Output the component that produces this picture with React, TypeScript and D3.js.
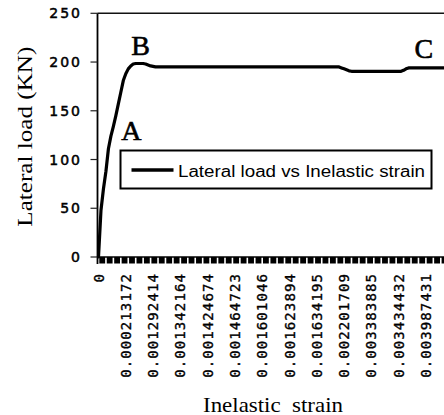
import React from 'react';
import * as d3 from 'd3';

const W = 444;
const H = 415;

const yTicks = [0, 50, 100, 150, 200, 250];
const xTickLabels = [
  '0', '0.000213172', '0.001292414', '0.001342164', '0.001424674',
  '0.001464723', '0.001601046', '0.001623894', '0.001634195',
  '0.002201709', '0.003383885', '0.003434432', '0.003987431',
];
const labelEvery = 11;
const tickEvery = 3;

// Lateral load (KN) per inelastic strain category
const loads = [
  0, 48, 70, 88, 111, 124, 134, 145, 157, 169,
  181, 188, 193, 196, 198, 198.5, 198.5, 198.5, 198.5, 198,
  197, 196, 195.5,
  195, 195, 195, 195, 195, 195, 195, 195, 195, 195,
  195, 195, 195, 195, 195, 195, 195, 195, 195, 195,
  195, 195, 195, 195, 195, 195, 195, 195, 195, 195,
  195, 195, 195, 195, 195, 195, 195, 195, 195, 195,
  195, 195, 195, 195, 195, 195, 195, 195, 195, 195,
  195, 195, 195, 195, 195, 195, 195, 195, 195, 195,
  195, 195, 195, 195, 195, 195, 195, 195, 195, 195,
  195, 195, 195, 195,
  195, 194, 193, 192, 191,
  190.5, 190.5, 190.5, 190.5, 190.5, 190.5, 190.5, 190.5, 190.5, 190.5,
  190.5, 190.5, 190.5, 190.5, 190.5, 190.5, 190.5, 190.5, 190.5, 190.5,
  190.5,
  191.5, 193,
  194, 194, 194, 194, 194, 194, 194, 194, 194, 194,
  194, 194, 194, 194, 194, 194,
];

const annotations = [
  { label: 'A', cat: 9.2, load: 120 },
  { label: 'B', cat: 13.2, load: 207.2 },
  { label: 'C', cat: 127.4, load: 204.1 },
];

export default function App() {
  const x = d3.scaleLinear().domain([0, 132]).range([98.5, 425.9]);
  const y = d3.scaleLinear().domain([0, 250]).range([257, 13.3]);
  const axisX = 97.5;
  const y0 = y(0);

  const line = d3
    .line<number>()
    .x((_, i) => x(i))
    .y((d) => y(d));

  const tickIdx = d3.range(0, loads.length + 3, tickEvery);
  const step = x(1) - x(0);

  return (
    <svg
      width={W}
      height={H}
      style={{ position: 'absolute', left: 0, top: 0, background: '#fff' }}
    >
      <rect x={0} y={0} width={W} height={H} fill="#fff" />
      {/* plot area top border */}
      <line x1={axisX} x2={W + 10} y1={y(250)} y2={y(250)} stroke="#111" strokeWidth={1.4} />
      {/* y axis */}
      <line x1={axisX} x2={axisX} y1={y(250)} y2={y0 + 7} stroke="#000" strokeWidth={1.8} />
      {yTicks.map((t) => (
        <g key={t}>
          <line x1={axisX - 7} x2={axisX} y1={y(t)} y2={y(t)} stroke="#222" strokeWidth={1.2} />
          <text
            x={82}
            y={y(t)}
            dy="0.36em"
            textAnchor="end"
            fontFamily="DejaVu Sans"
            fontSize={14}
            letterSpacing={2}
            fill="#000"
            stroke="#000"
            strokeWidth={0.5}
          >
            {t}
          </text>
        </g>
      ))}
      {/* x axis */}
      <line x1={axisX} x2={W + 10} y1={y0} y2={y0} stroke="#000" strokeWidth={1.6} />
      {tickIdx.map((i) => (
        <line
          key={i}
          x1={x(i + 1.5)}
          x2={x(i + 1.5)}
          y1={y0}
          y2={y0 + 6.5}
          stroke="#000"
          strokeWidth={step * tickEvery - 1.6}
        />
      ))}
      {xTickLabels.map((lab, k) => {
        const cx = x(k * labelEvery);
        return (
          <text
            key={lab + k}
            transform={`translate(${cx},273) rotate(-90)`}
            dy="0.36em"
            textAnchor="end"
            fontFamily="DejaVu Sans Mono"
            fontSize={14}
            letterSpacing={1.1}
            fill="#000"
            stroke="#000"
            strokeWidth={0.35}
          >
            {lab}
          </text>
        );
      })}
      {/* data line */}
      <path
        d={line(loads) || ''}
        fill="none"
        stroke="#000"
        strokeWidth={3.2}
        strokeLinejoin="round"
        strokeLinecap="round"
      />
      {/* annotations */}
      {annotations.map((a) => (
        <text
          key={a.label}
          x={x(a.cat)}
          y={y(a.load)}
          fontFamily="Liberation Serif"
          fontSize={28}
          fill="#000"
          stroke="#000"
          strokeWidth={0.6}
        >
          {a.label}
        </text>
      ))}
      {/* legend */}
      <rect x={120.5} y={150.5} width={311} height={38} fill="#fff" stroke="#000" strokeWidth={2} />
      <line x1={131.5} x2={173.5} y1={170} y2={170} stroke="#000" strokeWidth={3.5} />
      <text
        x={178}
        y={176.5}
        fontFamily="Liberation Sans"
        fontSize={16}
        textLength={247}
        lengthAdjust="spacingAndGlyphs"
        fill="#000"
      >
        Lateral load vs Inelastic strain
      </text>
      {/* axis titles */}
      <text
        transform="translate(32,136.7) rotate(-90)"
        textAnchor="middle"
        fontFamily="Liberation Serif"
        fontSize={21}
        textLength={180}
        lengthAdjust="spacingAndGlyphs"
        fill="#000"
      >
        Lateral load (KN)
      </text>
      <text
        x={273}
        y={411.5}
        textAnchor="middle"
        fontFamily="Liberation Serif"
        fontSize={21}
        textLength={140}
        lengthAdjust="spacingAndGlyphs"
        style={{ whiteSpace: 'pre' }}
        fill="#000"
      >
        {'Inelastic  strain'}
      </text>
    </svg>
  );
}
